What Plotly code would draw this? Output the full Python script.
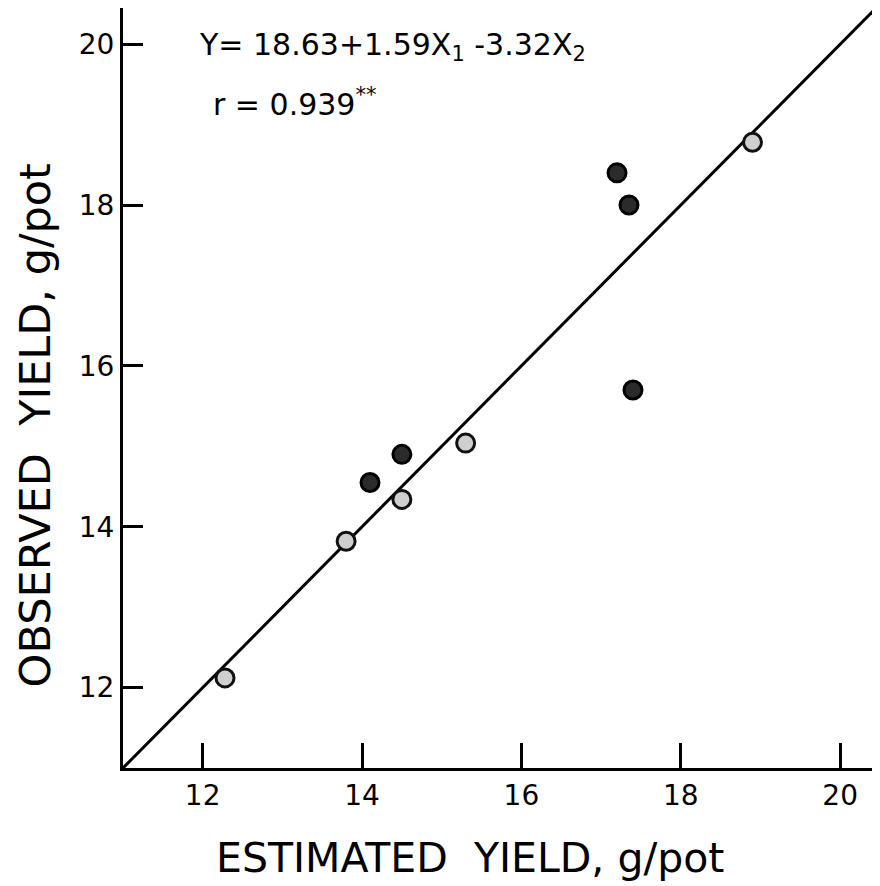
import plotly.graph_objects as go

# Data
dark_est = [14.1, 14.5, 17.2, 17.35, 17.4]
dark_obs = [14.55, 14.9, 18.4, 18.0, 15.7]
light_est = [12.28, 13.8, 14.5, 15.3, 18.9]
light_obs = [12.12, 13.82, 14.34, 15.04, 18.78]
line_x = [11.0, 20.5]
line_y = [11.0, 20.5]
tick_vals = [12, 14, 16, 18, 20]
tick_text = ["12", "14", "16", "18", "20"]

fig = go.Figure()
fig.add_trace(go.Scatter(x=line_x, y=line_y, mode="lines",
                         line=dict(color="black", width=3), showlegend=False,
                         hoverinfo="skip"))
fig.add_trace(go.Scatter(x=light_est, y=light_obs, mode="markers",
                         marker=dict(size=18, color="#cfcfcf",
                                     line=dict(color="#111", width=3)),
                         showlegend=False))
fig.add_trace(go.Scatter(x=dark_est, y=dark_obs, mode="markers",
                         marker=dict(size=18, color="#2b2b2b",
                                     line=dict(color="#000", width=3)),
                         showlegend=False))

font = "DejaVu Sans"
fig.update_layout(
    width=872, height=878,
    margin=dict(l=115, r=0, t=0, b=118),
    paper_bgcolor="white", plot_bgcolor="white",
    font=dict(family=font, color="black"),
    xaxis=dict(range=[11.0, 20.5], tickvals=tick_vals, ticktext=tick_text,
               ticks="inside", ticklen=25, tickwidth=3, tickcolor="black",
               showline=True, linecolor="black", linewidth=3,
               showgrid=False, zeroline=False,
               tickfont=dict(size=28, family=font)),
    yaxis=dict(range=[11.0, 20.45], tickvals=tick_vals, ticktext=tick_text,
               ticks="inside", ticklen=20, tickwidth=3, tickcolor="black",
               showline=True, linecolor="black", linewidth=3,
               showgrid=False, zeroline=False,
               tickfont=dict(size=28, family=font)),
    annotations=[
        dict(x=0.0978, y=0.95, xref="paper", yref="paper", xanchor="left",
             yanchor="middle", showarrow=False,
             text="Y= 18.63+1.59X<sub>1</sub> -3.32X<sub>2</sub>",
             font=dict(size=30, family=font)),
        dict(x=0.116, y=0.876, xref="paper", yref="paper", xanchor="left",
             yanchor="middle", showarrow=False,
             text="r = 0.939<sup>**</sup>",
             font=dict(size=30, family=font)),
        dict(x=-0.116, y=0.451, xref="paper", yref="paper", xanchor="center",
             yanchor="middle", showarrow=False, textangle=-90,
             text="OBSERVED  YIELD, g/pot",
             font=dict(size=43, family=font)),
        dict(x=0.458, y=-0.118, xref="paper", yref="paper", xanchor="center",
             yanchor="middle", showarrow=False,
             text="ESTIMATED  YIELD, g/pot",
             font=dict(size=41, family=font)),
    ],
)

fig.write_html("out.html")
